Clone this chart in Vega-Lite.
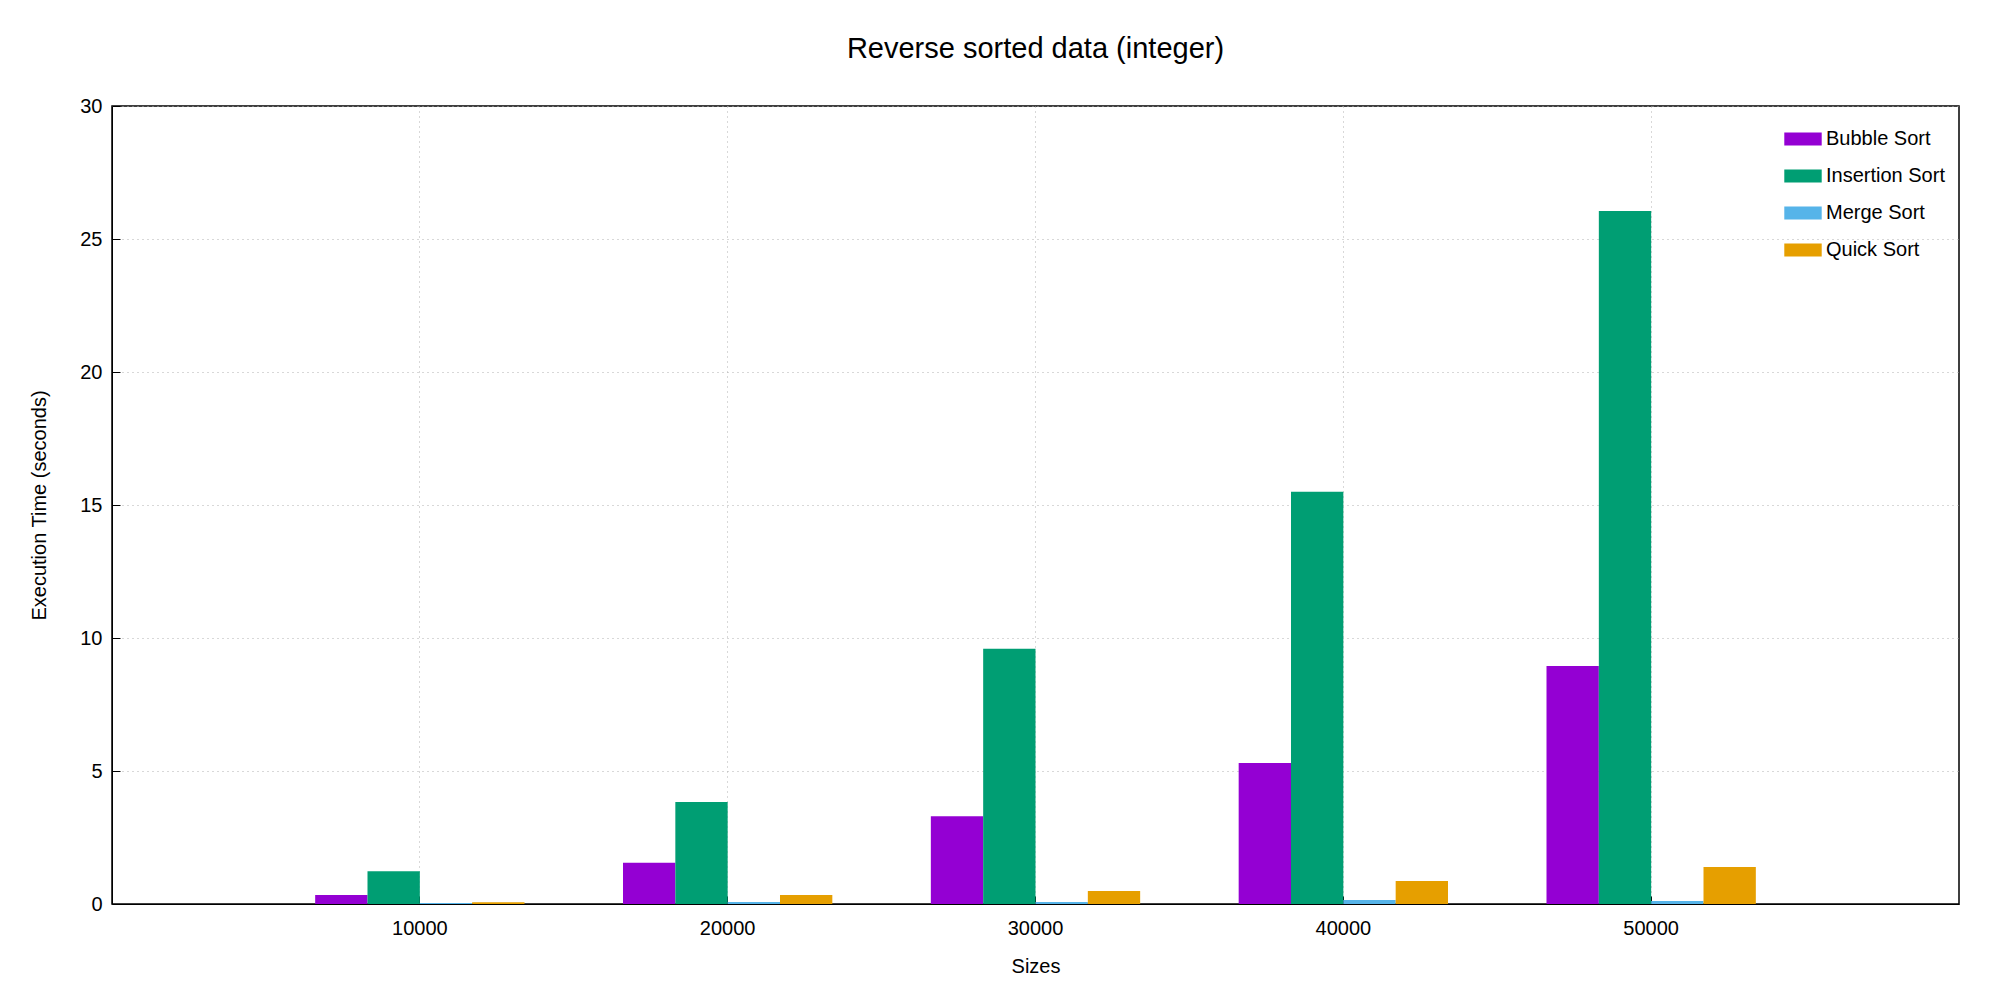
{
  "$schema": "https://vega.github.io/schema/vega-lite/v6.json",
  "autosize": "none",
  "width": 1847,
  "height": 798,
  "padding": {"left": 112, "top": 106, "right": 41, "bottom": 96},
  "background": "white",
  "title": {"text": "Reverse sorted data (integer)", "fontSize": 29, "font": "Liberation Sans", "fontWeight": "normal", "offset": 32, "color": "black"},
  "data": {"values": [
    {"size": "10000", "algo": "Bubble Sort", "time": 0.34},
    {"size": "10000", "algo": "Insertion Sort", "time": 1.23},
    {"size": "10000", "algo": "Merge Sort", "time": 0.04},
    {"size": "10000", "algo": "Quick Sort", "time": 0.07},
    {"size": "20000", "algo": "Bubble Sort", "time": 1.55},
    {"size": "20000", "algo": "Insertion Sort", "time": 3.83},
    {"size": "20000", "algo": "Merge Sort", "time": 0.075},
    {"size": "20000", "algo": "Quick Sort", "time": 0.34},
    {"size": "30000", "algo": "Bubble Sort", "time": 3.3},
    {"size": "30000", "algo": "Insertion Sort", "time": 9.6},
    {"size": "30000", "algo": "Merge Sort", "time": 0.075},
    {"size": "30000", "algo": "Quick Sort", "time": 0.49},
    {"size": "40000", "algo": "Bubble Sort", "time": 5.3},
    {"size": "40000", "algo": "Insertion Sort", "time": 15.5},
    {"size": "40000", "algo": "Merge Sort", "time": 0.15},
    {"size": "40000", "algo": "Quick Sort", "time": 0.86},
    {"size": "50000", "algo": "Bubble Sort", "time": 8.95},
    {"size": "50000", "algo": "Insertion Sort", "time": 26.05},
    {"size": "50000", "algo": "Merge Sort", "time": 0.11},
    {"size": "50000", "algo": "Quick Sort", "time": 1.39}
  ]},
  "mark": {"type": "bar"},
  "encoding": {
    "x": {
      "field": "size", "type": "nominal", "title": "Sizes",
      "scale": {"paddingInner": 0.32, "paddingOuter": 0.66},
      "axis": {"labelAngle": 0, "grid": true, "gridDash": [1, 4], "gridColor": "#b0b0b0", "bandPosition": 0.5, "tickSize": -8, "tickColor": "black", "domainColor": "black", "labelPadding": 22, "titlePadding": 18}
    },
    "xOffset": {"field": "algo", "type": "nominal", "scale": {"paddingInner": 0}},
    "y": {
      "field": "time", "type": "quantitative", "title": "Execution Time (seconds)",
      "scale": {"domain": [0, 30], "nice": false},
      "axis": {"values": [0, 5, 10, 15, 20, 25, 30], "grid": true, "gridDash": [1, 4], "gridColor": "#b0b0b0", "tickSize": -8, "tickColor": "black", "domainColor": "black", "labelPadding": 18, "titlePadding": 30}
    },
    "color": {
      "field": "algo", "type": "nominal",
      "scale": {"domain": ["Bubble Sort", "Insertion Sort", "Merge Sort", "Quick Sort"], "range": ["#9400d3", "#009e73", "#56b4e9", "#e69f00"]},
      "legend": {"title": null, "orient": "top-right", "offset": 14, "symbolType": "M-1,-0.35L1,-0.35L1,0.35L-1,0.35Z", "symbolSize": 1400, "symbolStrokeWidth": 0, "labelFontSize": 20, "rowPadding": 8, "symbolOpacity": 1}
    }
  },
  "config": {
    "font": "Liberation Sans",
    "view": {"stroke": "black", "strokeWidth": 1.5},
    "axis": {"labelFontSize": 20, "titleFontSize": 20, "titleFontWeight": "normal", "labelColor": "black", "titleColor": "black"},
    "legend": {"labelFont": "Liberation Sans", "labelColor": "black"}
  }
}
